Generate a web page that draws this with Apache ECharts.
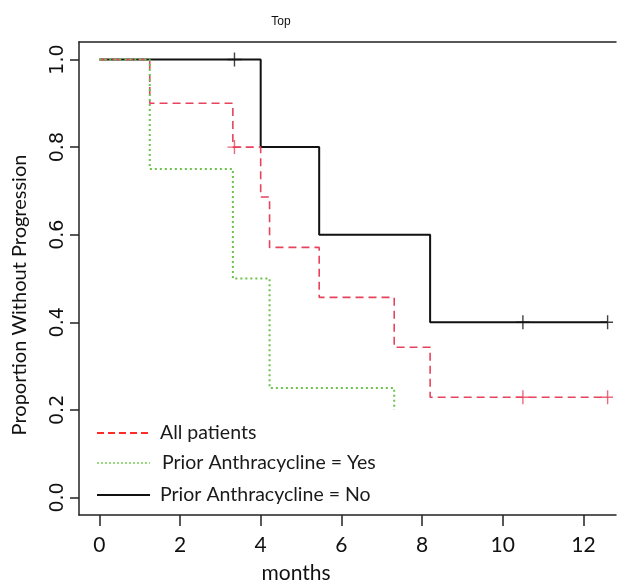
<!DOCTYPE html>
<html>
<head>
<meta charset="utf-8">
<script src="https://cdn.jsdelivr.net/npm/echarts@6/dist/echarts.min.js"></script>
<style>
html,body{margin:0;padding:0;background:#fff;overflow:hidden;}
#chart{width:617px;height:583px;}
</style>
</head>
<body>
<div id="chart"></div>
<script>
// ---- data ----
var xTicks = [0, 2, 4, 6, 8, 10, 12];
var yTicks = [0, 0.2, 0.4, 0.6, 0.8, 1.0];

var allTimes = [0, 1.25, 3.31, 4.0, 4.22, 5.45, 7.31, 8.2, 12.6];
var allSurv  = [1.0, 0.9, 0.8, 0.686, 0.571, 0.457, 0.343, 0.229, 0.229];
var allCensTimes = [3.35, 10.5, 12.6];
var allCensSurv  = [0.8, 0.229, 0.229];

var yesTimes = [0, 1.25, 3.31, 4.22, 7.31];
var yesSurv  = [1.0, 0.75, 0.5, 0.25, 0.2];

var noTimes = [0, 4.0, 5.45, 8.2, 12.6];
var noSurv  = [1.0, 0.8, 0.6, 0.4, 0.4];
var noCensTimes = [3.35, 10.5, 12.6];
var noCensSurv  = [1.0, 0.4, 0.4];

var legendNames = ['All patients', 'Prior Anthracycline = Yes', 'Prior Anthracycline = No'];

function pairs(xs, ys) { return xs.map(function (x, i) { return [x, ys[i]]; }); }

var plusPath = 'path://M-1,-10 h2 v9 h9 v2 h-9 v9 h-2 v-9 h-9 v-2 h9 z';

var X_MIN = -0.504, X_MAX = 12.808;

var chart = echarts.init(document.getElementById('chart'), null, {renderer: 'canvas'});
chart.setOption({
  animation: false,
  backgroundColor: '#fff',
  title: {
    text: 'Top', left: 276, top: 11, textAlign: 'center',
    textStyle: {fontFamily: 'Liberation Sans', fontSize: 12, fontWeight: 'normal', color: '#111'}
  },
  grid: {left: 79, top: 42, width: 537, height: 473, show: false,
         containLabel: false, outerBoundsMode: 'none'},
  xAxis: [{
    type: 'value', min: X_MIN, max: X_MAX,
    splitLine: {show: false},
    axisLine: {show: true, onZero: false, lineStyle: {color: '#222', width: 1.5}},
    axisTick: {show: true, length: 11, lineStyle: {color: '#222', width: 1.5}, customValues: xTicks},
    axisLabel: {customValues: xTicks, margin: 20, fontFamily: 'Lato', fontSize: 21, color: '#111'}
  }, {
    type: 'value', position: 'top', min: X_MIN, max: X_MAX,
    splitLine: {show: false},
    axisLine: {show: true, onZero: false, lineStyle: {color: '#222', width: 1.5}},
    axisTick: {show: false}, axisLabel: {show: false}
  }],
  yAxis: {
    type: 'value', min: -0.04, max: 1.04,
    splitLine: {show: false},
    axisLine: {show: true, onZero: false, lineStyle: {color: '#222', width: 1.5}},
    axisTick: {show: true, length: 9, lineStyle: {color: '#222', width: 1.5}, customValues: yTicks},
    axisLabel: {
      customValues: yTicks, rotate: 90, align: 'center', verticalAlign: 'bottom', margin: 11,
      fontFamily: 'DejaVu Sans', fontSize: 19, color: '#111',
      formatter: function (v) { return v.toFixed(1); }
    }
  },
  series: [
    {name: legendNames[2], type: 'line', step: 'end', showSymbol: false, data: pairs(noTimes, noSurv),
     lineStyle: {color: '#111', width: 2}, z: 2},
    {name: legendNames[0], type: 'line', step: 'end', showSymbol: false, data: pairs(allTimes, allSurv),
     lineStyle: {color: '#e8435c', width: 1.6, type: [8, 5]}, z: 3},
    {name: legendNames[1], type: 'line', step: 'end', showSymbol: false, data: pairs(yesTimes, yesSurv),
     lineStyle: {color: '#6cc24a', width: 2, type: [2, 3]}, z: 4},
    {type: 'scatter', data: pairs(noCensTimes, noCensSurv), symbol: plusPath, symbolSize: 14,
     itemStyle: {color: '#111'}, z: 5},
    {type: 'scatter', data: pairs(allCensTimes, allCensSurv), symbol: plusPath, symbolSize: 14,
     itemStyle: {color: '#e8435c'}, z: 5}
  ],
  graphic: [
    {type: 'rect', z: 100, shape: {x: 613, y: 43.5, width: 6, height: 470}, style: {fill: '#fff'}},
    {type: 'line', shape: {x1: 97, y1: 433, x2: 150, y2: 433}, style: {stroke: '#ff2a2a', lineWidth: 2, lineDash: [7, 4]}},
    {type: 'text', x: 160, y: 433, style: {text: legendNames[0], font: '19.5px Lato', fill: '#1a1a1a', verticalAlign: 'middle'}},
    {type: 'line', shape: {x1: 97, y1: 463, x2: 150, y2: 463}, style: {stroke: '#7ccc5a', lineWidth: 1.5, lineDash: [2, 2]}},
    {type: 'text', x: 162, y: 463, style: {text: legendNames[1], font: '19.5px Lato', fill: '#1a1a1a', verticalAlign: 'middle'}},
    {type: 'line', shape: {x1: 97, y1: 495, x2: 150, y2: 495}, style: {stroke: '#111', lineWidth: 2}},
    {type: 'text', x: 160, y: 495, style: {text: legendNames[2], font: '19.5px Lato', fill: '#1a1a1a', verticalAlign: 'middle'}},
    {type: 'text', x: 296, y: 573, style: {text: 'months', font: '21px Lato', fill: '#111', align: 'center', verticalAlign: 'middle'}},
    {type: 'text', x: 20, y: 295, rotation: Math.PI / 2,
     style: {text: 'Proportion Without Progression', font: '20px Lato', fill: '#111', align: 'center', verticalAlign: 'middle'}}
  ]
});
</script>
</body>
</html>
